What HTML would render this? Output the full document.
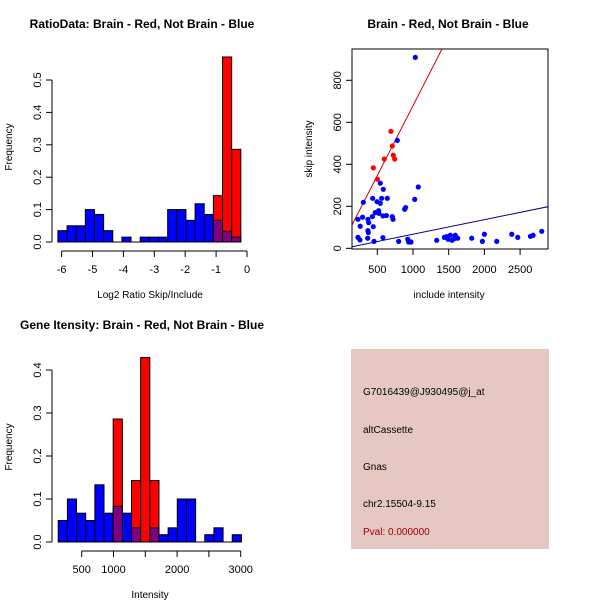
<!DOCTYPE html>
<html><head><meta charset="utf-8"><style>
html,body{margin:0;padding:0;background:#fff}
svg{display:block;font-family:"Liberation Sans",sans-serif}
</style></head><body>
<svg id="c" width="600" height="600" xmlns="http://www.w3.org/2000/svg">
<rect x="0" y="0" width="600" height="600" fill="#fff"/>
<text x="142" y="28" font-size="12" font-weight="bold" text-anchor="middle">RatioData: Brain - Red, Not Brain - Blue</text>
<text x="448" y="28" font-size="12" font-weight="bold" text-anchor="middle">Brain - Red, Not Brain - Blue</text>
<text x="142" y="329" font-size="12" font-weight="bold" text-anchor="middle">Gene Itensity: Brain - Red, Not Brain - Blue</text>
<text x="150" y="298" font-size="10" text-anchor="middle">Log2 Ratio Skip/Include</text>
<text x="12" y="147" font-size="10" text-anchor="middle" transform="rotate(-90 12 147)">Frequency</text>
<text x="449" y="298" font-size="10" text-anchor="middle">include intensity</text>
<text x="312" y="149" font-size="10" text-anchor="middle" transform="rotate(-90 312 149)">skip intensity</text>
<text x="150" y="598" font-size="10" text-anchor="middle">Intensity</text>
<text x="12" y="447" font-size="10" text-anchor="middle" transform="rotate(-90 12 447)">Frequency</text>
<g>
<rect x="351" y="349" width="198" height="200" fill="#e6c8c2"/>
<text x="363" y="395" font-size="10">G7016439@J930495@j_at</text>
<text x="363" y="433" font-size="10">altCassette</text>
<text x="363" y="470" font-size="10">Gnas</text>
<text x="363" y="507" font-size="10">chr2.15504-9.15</text>
<text x="363" y="535" font-size="10" fill="#a00000">Pval: 0.000000</text>
</g>
</svg>
<script>
// ---- data: ratio histogram ----
const ratioBinStart = -6.12;
const ratioBinWidth = 0.296;
const ratioBlue = [0.035,0.05,0.05,0.1,0.085,0.035,0,0.015,0,0.015,0.015,0.015,0.1,0.1,0.067,0.118,0.085,0.067,0.033,0.015];
const ratioRed  = [0,0,0,0,0,0,0,0,0,0,0,0,0,0,0,0,0,0.143,0.571,0.286];
const ratioXTicks = [-6,-5,-4,-3,-2,-1,0];
const ratioYTicks = ["0.0","0.1","0.2","0.3","0.4","0.5"];
// ---- data: intensity histogram ----
const intBinStart = 131;
const intBinWidth = 144;
const intBlue = [0.05,0.1,0.067,0.05,0.133,0.067,0.083,0.067,0.033,0,0.033,0.017,0.033,0.1,0.1,0,0.017,0.033,0,0.017];
const intRed  = [0,0,0,0,0,0,0.286,0,0.143,0.429,0.143,0,0,0,0,0,0,0,0,0];
const intXTicks = [500,1000,1500,2000,2500,3000];
const intXLabels = ["500","1000","","2000","","3000"];
const intYTicks = ["0.0","0.1","0.2","0.3","0.4"];
// ---- data: scatter ----
const redX = [691,444,500,598,710,724,743];
const redY = [557,383,329,425,487,443,425];
const blueX = [1032,780,1074,542,584,304,435,561,640,496,542,519,471,523,579,627,710,720,431,229,294,369,379,261,444,369,374,897,883,1024,229,257,365,454,579,799,926,939,972,1332,1439,1491,1523,1547,1593,1626,1822,1972,2000,2173,2383,2467,2645,2682,2803,1472,1579];
const blueY = [909,514,292,310,281,219,238,238,238,222,214,179,170,167,154,156,151,138,151,138,148,138,122,105,103,84,75,194,186,233,52,40,48,33,51,33,43,30,30,38,52,43,62,38,62,48,48,33,67,33,67,52,57,62,81,56,46];
const scatterXTicks = [500,1000,1500,2000,2500];
const scatterYTicks = [0,200,400,600,800];
const redFit = [14, 0.665];   // intercept, slope
const blueFit = [-2.5, 0.0694];

const svg = document.getElementById('c');
const NS = 'http://www.w3.org/2000/svg';
function mk(tag, attrs, parent){
  const e = document.createElementNS(NS, tag);
  for (const k in attrs) e.setAttribute(k, attrs[k]);
  (parent||svg).appendChild(e);
  return e;
}

function histogram(name, binStart, binWidth, blue, red, sx, sy, yTicks, xTicks, xLabels, yTickVals, axisY, yAxisX){
  const g = mk('g', {});
  
  
  const y0 = sy(0);
  for (let i = 0; i < blue.length; i++){
    const xa = sx(binStart + i*binWidth), xb = sx(binStart + (i+1)*binWidth);
    const r = red[i], b = blue[i];
    if (r > 0){
      const e = mk('rect', {x:xa, y:sy(r), width:xb-xa, height:y0-sy(r), fill:'#ff0000', stroke:'#000', 'stroke-width':1}, g);
      
      
    }
    if (b > 0){
      const col = r > 0 ? '#80007f' : '#0000ff';
      const e = mk('rect', {x:xa, y:sy(b), width:xb-xa, height:y0-sy(b), fill:col, stroke:'#000', 'stroke-width':1}, g);
      
      
    }
  }
  mk('line', {x1:sx(binStart), x2:sx(binStart+blue.length*binWidth), y1:y0, y2:y0, stroke:'#000'}, g);
  const ya = mk('g', {});
  
  
  const yv = yTickVals;
  mk('line', {x1:yAxisX, x2:yAxisX, y1:sy(yv[0]), y2:sy(yv[yv.length-1]), stroke:'#000'}, ya);
  yv.forEach((v,i)=>{
    const y = sy(v);
    mk('line', {x1:yAxisX-6, x2:yAxisX, y1:y, y2:y, stroke:'#000'}, ya);
    const t = mk('text', {x:yAxisX-11, y:y, 'font-size':11, 'text-anchor':'middle', transform:'rotate(-90 '+(yAxisX-11)+' '+y+')'}, ya);
    t.textContent = yTicks[i];
  });
  const xa = mk('g', {});
  
  
  mk('line', {x1:sx(xTicks[0]), x2:sx(xTicks[xTicks.length-1]), y1:axisY, y2:axisY, stroke:'#000'}, xa);
  xTicks.forEach((v,i)=>{
    const x = sx(v);
    mk('line', {x1:x, x2:x, y1:axisY, y2:axisY+6, stroke:'#000'}, xa);
    const t = mk('text', {x:x, y:axisY+22, 'font-size':11, 'text-anchor':'middle'}, xa);
    t.textContent = xLabels[i];
  });
}

const rsx = v => 247 + v*30.9;
const rsy = v => 242 - v*324;
histogram('ratio', ratioBinStart, ratioBinWidth, ratioBlue, ratioRed, rsx, rsy,
  ratioYTicks, ratioXTicks, ratioXTicks.map(String), ratioYTicks.map(Number), 251, 52);

const isx = v => 49.9 + v*0.0636;
const isy = v => 542 - v*430;
histogram('intensity', intBinStart, intBinWidth, intBlue, intRed, isx, isy,
  intYTicks, intXTicks, intXLabels, intYTicks.map(Number), 551, 52);

// scatter
const ssx = v => 341.6 + v*0.0714;
const ssy = v => 248.3 - v*0.21;
const sg = mk('g', {});


const clip = mk('clipPath', {id:'sc'}, sg);
mk('rect', {x:352, y:49, width:196, height:200}, clip);
function fitLine(f, col, nm){
  const xa = 0, xb = 3200;
  const e = mk('line', {x1:ssx(xa), y1:ssy(f[0]+f[1]*xa), x2:ssx(xb), y2:ssy(f[0]+f[1]*xb), stroke:col, 'stroke-width':1, 'clip-path':'url(#sc)'}, sg);
  
  
}
fitLine(redFit, '#cc0000', 'red-fit-line');
fitLine(blueFit, '#00008b', 'blue-fit-line');
blueX.forEach((x,i)=>{
  const e = mk('circle', {cx:ssx(x), cy:ssy(blueY[i]), r:2.6, fill:'#0000ff', 'clip-path':'url(#sc)'}, sg);
  
  
});
redX.forEach((x,i)=>{
  const e = mk('circle', {cx:ssx(x), cy:ssy(redY[i]), r:2.6, fill:'#ff0000'}, sg);
  
  
});
const box = mk('rect', {x:352, y:49, width:196, height:200, fill:'none', stroke:'#000'}, sg);


const sxa = mk('g', {});


scatterXTicks.forEach(v=>{
  const x = ssx(v);
  mk('line', {x1:x, x2:x, y1:249, y2:255, stroke:'#000'}, sxa);
  const t = mk('text', {x:x, y:273, 'font-size':11, 'text-anchor':'middle'}, sxa);
  t.textContent = String(v);
});
const sya = mk('g', {});


scatterYTicks.forEach(v=>{
  const y = ssy(v);
  mk('line', {x1:346, x2:352, y1:y, y2:y, stroke:'#000'}, sya);
  const t = mk('text', {x:341, y:y, 'font-size':11, 'text-anchor':'middle', transform:'rotate(-90 341 '+y+')'}, sya);
  t.textContent = String(v);
});
</script>
</body></html>
